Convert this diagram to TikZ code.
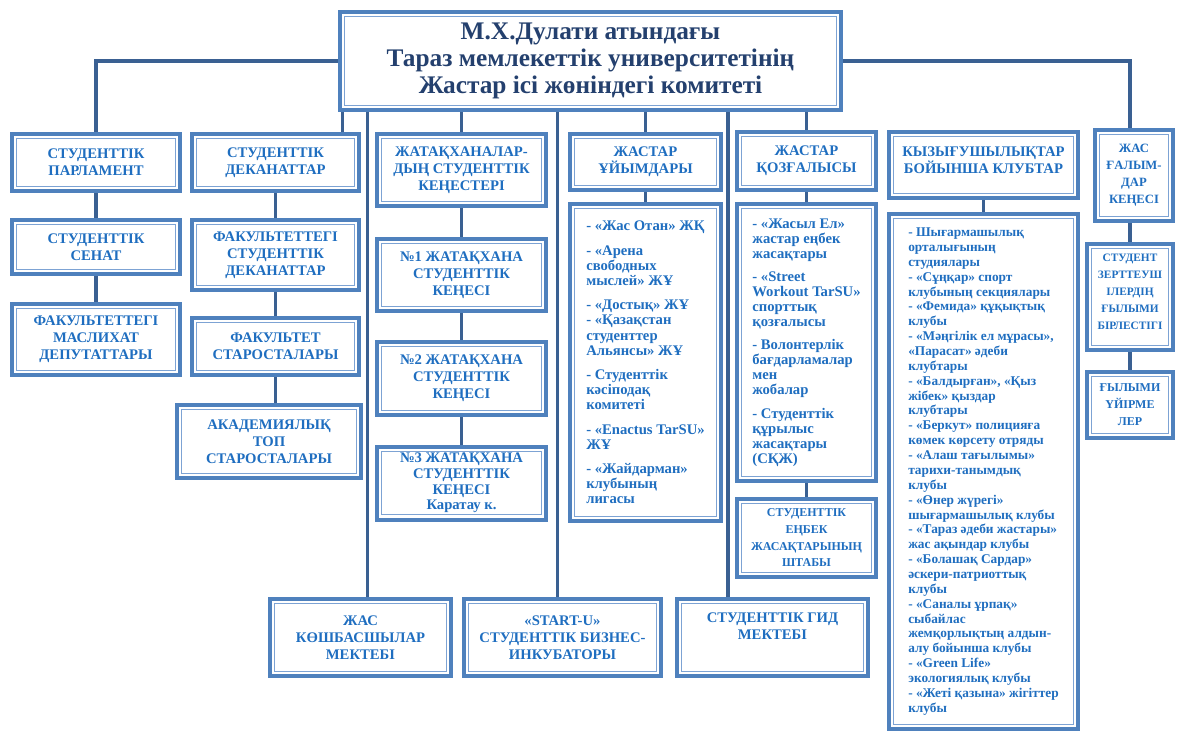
\documentclass[tikz,border=0pt]{standalone}
\usepackage{fontspec}
\setmainfont{Liberation Serif}
\usepackage{tikz}
\usetikzlibrary{backgrounds}
\definecolor{boxblue}{RGB}{79,129,189}
\definecolor{innerblue}{RGB}{125,163,212}
\definecolor{linkblue}{RGB}{58,96,146}
\definecolor{textblue}{RGB}{31,110,192}
\definecolor{titleblue}{RGB}{36,64,110}
\newcommand\tightlines{\lineskiplimit-20pt\relax}

\tikzset{
  unitbox/.style 2 args={
    draw=boxblue, line width=3pt, fill=white,
    minimum width=(#1-4)*0.75pt, minimum height=(#2-4)*0.75pt,
    inner sep=2pt, align=center, text=textblue,
    font={\bfseries\fontsize{11}{12.8}\selectfont},
    path picture={\draw[innerblue,line width=0.7pt]
      ([shift={(3.6pt,3.6pt)}]path picture bounding box.south west) rectangle
      ([shift={(-3.6pt,-3.6pt)}]path picture bounding box.north east);}
  },
  listbox/.style 2 args={unitbox={#1}{#2}, align=left,
    font={\bfseries\fontsize{11}{11.3}\selectfont\tightlines}},
  smalltext/.style={font={\bfseries\fontsize{9.5}{12.8}\selectfont}},
  link/.style={draw=linkblue, line width=2.4pt}
}

\begin{document}
\begin{tikzpicture}[x=0.75pt,y=-0.75pt]
\useasboundingbox (0,0) rectangle (1179,732);

% committee
\node[unitbox={505}{102}, text=titleblue,
      font={\bfseries\fontsize{19}{20.5}\selectfont\tightlines}] (top) at (590.5,61)
  {М.Х.Дулати атындағы\\Тараз мемлекеттік университетінің\\Жастар ісі жөніндегі комитеті};

% parliament
\node[unitbox={172}{61}] (parl) at (96,162.5) {СТУДЕНТТІК\\ПАРЛАМЕНТ};
\node[unitbox={172}{58}] (senat) at (96,247) {СТУДЕНТТІК\\СЕНАТ};
\node[unitbox={172}{75}] (maslihat) at (96,339.5) {ФАКУЛЬТЕТТЕГІ\\МАСЛИХАТ\\ДЕПУТАТТАРЫ};

% deans
\node[unitbox={171}{61}] (dekan) at (275.5,162.5) {СТУДЕНТТІК\\ДЕКАНАТТАР};
\node[unitbox={171}{74}] (fakdekan) at (275.5,255) {ФАКУЛЬТЕТТЕГІ\\СТУДЕНТТІК\\ДЕКАНАТТАР};
\node[unitbox={171}{61}] (fakstar) at (275.5,346.5) {ФАКУЛЬТЕТ\\СТАРОСТАЛАРЫ};
\node[unitbox={188}{77}] (akadem) at (269,441.5) {АКАДЕМИЯЛЫҚ\\ТОП\\СТАРОСТАЛАРЫ};

% dormitories
\node[unitbox={173}{76}] (zhatak) at (461.5,170) {ЖАТАҚХАНАЛАР-\\ДЫҢ СТУДЕНТТІК\\КЕҢЕСТЕРІ};
\node[unitbox={173}{76}] (zh1) at (461.5,275) {№1 ЖАТАҚХАНА\\СТУДЕНТТІК\\КЕҢЕСІ};
\node[unitbox={173}{77}] (zh2) at (461.5,378.5) {№2 ЖАТАҚХАНА\\СТУДЕНТТІК\\КЕҢЕСІ};
\node[unitbox={173}{77}, font={\bfseries\fontsize{11}{11.8}\selectfont\tightlines}] (zh3) at (461.5,483)
  {№3 ЖАТАҚХАНА\\СТУДЕНТТІК\\КЕҢЕСІ\\Каратау к.};

% organisations
\node[unitbox={155}{60}] (uiym) at (645.5,162) {ЖАСТАР\\ҰЙЫМДАРЫ};
\node[listbox={155}{321}] (uiymlist) at (645.5,362.5)
  {- «Жас Отан» ЖҚ\\[7pt]
   - «Арена\\свободных\\мыслей» ЖҰ\\[7pt]
   - «Достық» ЖҰ\\
   - «Қазақстан\\студенттер\\Альянсы» ЖҰ\\[7pt]
   - Студенттік\\кәсіподақ\\комитеті\\[7pt]
   - «Enactus TarSU»\\ЖҰ\\[7pt]
   - «Жайдарман»\\клубының\\лигасы};

% movements
\node[unitbox={143}{62}] (kozg) at (806.5,161) {ЖАСТАР\\ҚОЗҒАЛЫСЫ};
\node[listbox={143}{281}] (kozglist) at (806.5,342.5)
  {- «Жасыл Ел»\\жастар еңбек\\жасақтары\\[6pt]
   - «Street\\Workout TarSU»\\спорттық\\қозғалысы\\[6pt]
   - Волонтерлік\\бағдарламалар\\мен\\жобалар\\[6pt]
   - Студенттік\\құрылыс\\жасақтары\\(СҚЖ)};
\node[unitbox={143}{82}, font={\bfseries\fontsize{9}{12.5}\selectfont}] (shtab) at (806.5,538)
  {СТУДЕНТТІК\\ЕҢБЕК\\ЖАСАҚТАРЫНЫҢ\\ШТАБЫ};

% clubs
\node[unitbox={193}{70}] (klub) at (983.5,165) {КЫЗЫҒУШЫЛЫҚТАР\\БОЙЫНША КЛУБТАР\\[-6pt]\mbox{}};
\node[listbox={193}{519}, font={\bfseries\fontsize{10}{11.15}\selectfont\tightlines}]
  (klublist) at (983.5,471.5)
  {- Шығармашылық\\орталығының\\студиялары\\
   - «Сұңқар» спорт\\клубының секциялары\\
   - «Фемида» құқықтық\\клубы\\
   - «Мәңгілік ел мұрасы»,\\«Парасат» әдеби\\клубтары\\
   - «Балдырған», «Қыз\\жібек» қыздар\\клубтары\\
   - «Беркут» полицияға\\көмек көрсету отряды\\
   - «Алаш тағылымы»\\тарихи-танымдық\\клубы\\
   - «Өнер жүрегі»\\шығармашылық клубы\\
   - «Тараз әдеби жастары»\\жас ақындар клубы\\
   - «Болашақ Сардар»\\әскери-патриоттық\\клубы\\
   - «Саналы ұрпақ»\\сыбайлас\\жемқорлықтың алдын-\\алу бойынша клубы\\
   - «Green Life»\\экологиялық клубы\\
   - «Жеті қазына» жігіттер\\клубы};

% young scientists
\node[unitbox={82}{95}, smalltext] (galym) at (1134,175.5) {ЖАС\\ҒАЛЫМ-\\ДАР\\КЕҢЕСІ};
\node[unitbox={90}{110}, font={\bfseries\fontsize{8.5}{12.8}\selectfont}] (zertteu) at (1130,297)
  {СТУДЕНТ\\ЗЕРТТЕУШ\\ІЛЕРДІҢ\\ҒЫЛЫМИ\\БІРЛЕСТІГІ\\[-5pt]\mbox{}};
\node[unitbox={90}{70}, font={\bfseries\fontsize{9}{12.8}\selectfont}] (uirme) at (1130,405) {ҒЫЛЫМИ\\ҮЙІРМЕ\\ЛЕР};

% schools
\node[unitbox={185}{81}] (koshb) at (360.5,637.5) {ЖАС\\КӨШБАСШЫЛАР\\МЕКТЕБІ};
\node[unitbox={201}{81}] (startu) at (562.5,637.5) {«START-U»\\СТУДЕНТТІК БИЗНЕС-\\ИНКУБАТОРЫ};
\node[unitbox={195}{81}] (gid) at (772.5,637.5) {СТУДЕНТТІК ГИД\\МЕКТЕБІ\\\strut};

\begin{scope}[on background layer]
\draw[link] (top.west) -| (parl.north);
\coordinate (gl) at (zertteu.north |- galym.north);
\draw[link] (top.east) -| (gl);
\coordinate (dk) at ([xshift=50pt]dekan.north);
\draw[link] (dk |- top.south) -- (dk);
\coordinate (kb) at ([xshift=5.5pt]koshb.north);
\draw[link] (kb |- top.south) -- (kb);
\draw[link] (zhatak.north |- top.south) -- (zhatak.north);
\coordinate (su) at ([xshift=-4pt]startu.north);
\draw[link] (su |- top.south) -- (su);
\draw[link] (uiym.north |- top.south) -- (uiym.north);
\coordinate (gd) at ([xshift=-33.4pt]gid.north);
\draw[link] (gd |- top.south) -- (gd);
\draw[link] (kozg.north |- top.south) -- (kozg.north);
% chains
\draw[link] (parl) -- (senat) (senat) -- (maslihat);
\draw[link] (dekan) -- (fakdekan) (fakdekan) -- (fakstar);
\draw[link] (fakstar.south) -- (fakstar.south |- akadem.north);
\draw[link] (zhatak) -- (zh1) (zh1) -- (zh2) (zh2) -- (zh3);
\draw[link] (uiym) -- (uiymlist);
\draw[link] (kozg) -- (kozglist) (kozglist) -- (shtab);
\draw[link] (klub) -- (klublist);
\draw[link] (galym.south -| zertteu.north) -- (zertteu.north);
\draw[link] (zertteu) -- (uirme);
\end{scope}
\end{tikzpicture}
\end{document}
